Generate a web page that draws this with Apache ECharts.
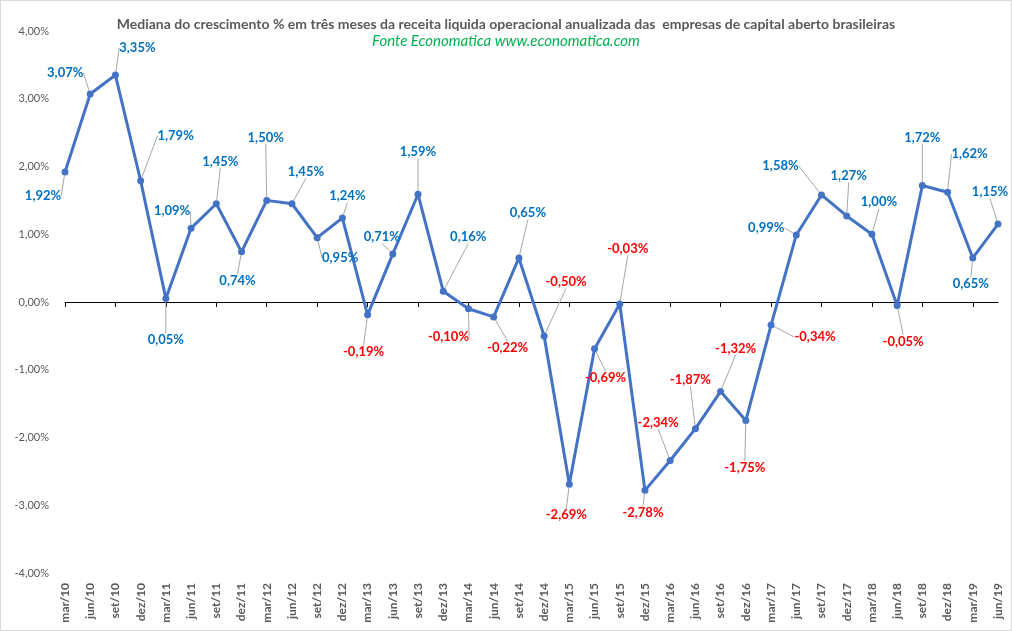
<!DOCTYPE html>
<html>
<head>
<meta charset="utf-8">
<script src="https://cdn.jsdelivr.net/npm/echarts@6/dist/echarts.min.js"></script>
<style>
html,body{margin:0;padding:0;background:#fff;}
#c{width:1010px;height:629px;border:1px solid #d9d9d9;}
</style>
</head>
<body>
<div id="c"></div>
<script>
const categories = ['mar/10','jun/10','set/10','dez/10','mar/11','jun/11','set/11','dez/11','mar/12','jun/12','set/12','dez/12','mar/13','jun/13','set/13','dez/13','mar/14','jun/14','set/14','dez/14','mar/15','jun/15','set/15','dez/15','mar/16','jun/16','set/16','dez/16','mar/17','jun/17','set/17','dez/17','mar/18','jun/18','set/18','dez/18','mar/19','jun/19'];
const values = [1.92,3.07,3.35,1.79,0.05,1.09,1.45,0.74,1.50,1.45,0.95,1.24,-0.19,0.71,1.59,0.16,-0.10,-0.22,0.65,-0.50,-2.69,-0.69,-0.03,-2.78,-2.34,-1.87,-1.32,-1.75,-0.34,0.99,1.58,1.27,1.00,-0.05,1.72,1.62,0.65,1.15];
const yMin = -4, yMax = 4, yStep = 1;
const titleText = 'Mediana do crescimento % em três meses da receita liquida operacional anualizada das  empresas de capital aberto brasileiras';
const subText = 'Fonte Economatica www.economatica.com';
// label placement (offset of label centre from its point, px)
const labelOffsets = [[-22,24],[-25,-21],[22,-27],[35,-45],[0,41],[-19,-17],[4,-42],[-4,29],[-1,-63],[14,-32],[23,20],[5,-22],[-4,37],[-11,-17],[0,-42],[25,-54],[-20,28],[14,31],[9,-45],[22,-54],[-3,31],[11,29],[8,-55],[-2,22],[-12,-38],[-5,-49],[15,-43],[-1,47],[44,12],[-30,-7],[-41,-29],[2,-40],[7,-32],[6,36],[0,-48],[22,-38],[-2,26],[-8,-32]];

const fmt = v => v.toFixed(2).replace('.', ',') + '%';
const FONT = 'Lato, "Liberation Sans", sans-serif';

const chart = echarts.init(document.getElementById('c'));
chart.setOption({
  animation: false,
  backgroundColor: '#fff',
  title: {
    text: titleText,
    subtext: subText,
    left: 'center',
    top: 11,
    itemGap: 3,
    textStyle: {fontFamily: FONT, fontSize: 14, fontWeight: 'bold', color: '#595959'},
    subtextStyle: {fontFamily: FONT, fontSize: 15, fontStyle: 'italic', color: '#00B050'}
  },
  grid: {left: 64, right: 13, top: 30, bottom: 57, containLabel: false},
  xAxis: [{
    type: 'category',
    data: categories,
    boundaryGap: false,
    axisLine: {onZero: true, lineStyle: {color: '#000', width: 1}},
    axisTick: {show: true, inside: false, length: 5, lineStyle: {color: '#000'}},
    axisLabel: {show: false},
    splitLine: {show: false}
  }, {
    type: 'category',
    data: categories,
    boundaryGap: false,
    position: 'bottom',
    axisLine: {show: false, onZero: false},
    axisTick: {show: false},
    axisLabel: {rotate: 90, margin: 10, interval: 0, fontFamily: FONT, fontSize: 12, fontWeight: 'bold', color: '#595959'},
    splitLine: {show: false}
  }],
  yAxis: {
    type: 'value',
    min: yMin, max: yMax, interval: yStep,
    axisLine: {show: false},
    axisTick: {show: false},
    splitLine: {show: false},
    axisLabel: {formatter: v => fmt(v), fontFamily: FONT, fontSize: 11, color: '#595959', margin: 16}
  },
  series: [{
    type: 'line',
    xAxisIndex: 0,
    data: values.map(v => ({value: v, label: {color: v < 0 ? '#FF0000' : '#0070C0'}})),
    symbol: 'circle',
    symbolSize: 7,
    lineStyle: {color: '#4472C4', width: 3},
    itemStyle: {color: '#4472C4'},
    label: {
      show: true,
      formatter: p => fmt(p.value),
      fontFamily: FONT,
      fontSize: 13,
      fontWeight: 'bold'
    },
    labelLine: {show: true, lineStyle: {color: '#a6a6a6', width: 1}},
    labelLayout: function (params) {
      const i = params.dataIndex;
      const r = params.rect;
      const cx = r.x + r.width / 2, cy = r.y + r.height / 2;
      const o = labelOffsets[i];
      return {x: cx + o[0], y: cy + o[1], align: 'center', verticalAlign: 'middle'};
    }
  }]
});
</script>
</body>
</html>
